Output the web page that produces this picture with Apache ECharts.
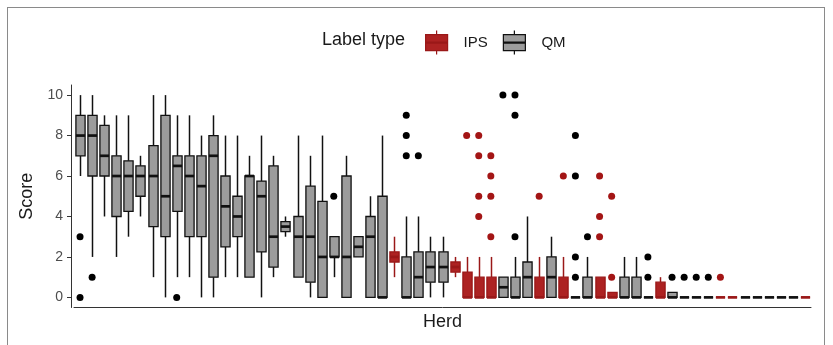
<!DOCTYPE html>
<html>
<head>
<meta charset="utf-8">
<title>Score by herd</title>
<script src="https://cdn.jsdelivr.net/npm/echarts@6/dist/echarts.min.js"></script>
<style>
  html, body { margin: 0; padding: 0; background: #fff; }
  #frame {
    position: absolute; left: 7px; top: 7px;
    width: 818px; height: 380px;
    border: 1px solid #8a8a8a; box-sizing: border-box;
  }
  #chart { position: absolute; left: 0; top: 0; width: 833px; height: 345px; }
</style>
</head>
<body>
<div id="frame"></div>
<div id="chart"></div>
<script>
// one entry per herd, ordered as on the x axis
var labelType = [
  'QM','QM','QM','QM','QM','QM','QM','QM','QM','QM',
  'QM','QM','QM','QM','QM','QM','QM','QM','QM','QM',
  'QM','QM','QM','QM','QM','QM','IPS','QM','QM','QM',
  'QM','IPS','IPS','IPS','IPS','QM','QM','QM','IPS','QM',
  'IPS','QM','QM','IPS','IPS','QM','QM','QM','IPS','QM',
  'QM','QM','QM','IPS','IPS','QM','QM','QM','QM','QM',
  'IPS'
];
var whiskerLow = [
  6, 2, 4, 2, 3, 4, 1, 0, 1, 1,
  0, 0, 1, 1, 1, 0, 1, 3, 1, 0,
  0, 1, 0, 2, 0, 0, 1, 0, 0, 0,
  0, 1, 0, 0, 0, 0, 0, 0, 0, 0,
  0, 0, 0, 0, 0, 0, 0, 0, 0, 0,
  0, 0, 0, 0, 0, 0, 0, 0, 0, 0,
  0
];
var lowerQuartile = [
  7, 6, 6, 4, 4.25, 5, 3.5, 3, 4.25, 3,
  3, 1, 2.5, 3, 1, 2.25, 1.5, 3.25, 1, 0.75,
  0, 2, 0, 2, 0, 0, 1.75, 0, 0, 0.75,
  0.75, 1.25, 0, 0, 0, 0, 0, 0, 0, 0,
  0, 0, 0, 0, 0, 0, 0, 0, 0, 0,
  0, 0, 0, 0, 0, 0, 0, 0, 0, 0,
  0
];
var medians = [
  8, 8, 7, 6, 6, 6, 6, 5, 6.5, 6,
  5.5, 7, 4.5, 4, 6, 5, 3, 3.5, 3, 3,
  2, 2, 2, 2.5, 3, 0, 2, 0, 1, 1.5,
  1.5, 1.5, 0, 0, 0, 0.5, 0, 1, 0, 1,
  0, 0, 0, 0, 0, 0, 0, 0, 0, 0,
  0, 0, 0, 0, 0, 0, 0, 0, 0, 0,
  0
];
var upperQuartile = [
  9, 9, 8.5, 7, 6.75, 6.5, 7.5, 9, 7, 7,
  7, 8, 6, 5, 6, 5.75, 6.5, 3.75, 4, 5.5,
  4.75, 3, 6, 3, 4, 5, 2.25, 2, 2.25, 2.25,
  2.25, 1.75, 1.25, 1, 1, 1, 1, 1.75, 1, 2,
  1, 0, 1, 1, 0.25, 1, 1, 0, 0.75, 0.25,
  0, 0, 0, 0, 0, 0, 0, 0, 0, 0,
  0
];
var whiskerHigh = [
  10, 10, 9, 9, 9, 7, 10, 10, 9, 9,
  8, 9, 8, 8, 7, 8, 7, 4, 8, 7,
  8, 3, 7, 3, 5, 8, 3, 4, 4, 3,
  3, 2, 2, 2, 2, 1, 2, 4, 2, 3,
  2, 0, 2, 1, 0.25, 2, 2, 0, 1, 0.25,
  0, 0, 0, 0, 0, 0, 0, 0, 0, 0,
  0
];
// outliers: herd index and score
var outlierHerd  = [0, 0, 1, 8, 21, 27, 27, 27, 28, 32, 33, 33, 33, 33, 34, 34, 34, 34, 35, 36, 36, 36,
                    38, 40, 41, 41, 41, 41, 42, 43, 43, 43, 44, 44, 47, 47, 49, 50, 51, 52, 53];
var outlierScore = [3, 0, 1, 0, 5, 9, 8, 7, 7, 8, 8, 7, 5, 4, 7, 6, 5, 3, 10, 10, 9, 3,
                    5, 6, 8, 6, 2, 1, 3, 6, 4, 3, 5, 1, 2, 1, 1, 1, 1, 1, 1];
var scoreTicks = [0, 2, 4, 6, 8, 10];

var herds = labelType.map(function (t, i) { return 'Herd ' + (i + 1); });

var palette = {
  IPS: { fill: '#ad2222', line: '#9a1818', point: '#a31515' },
  QM:  { fill: '#9c9c9c', line: '#111111', point: '#000000' }
};
var font = 'Liberation Sans, Arial, Helvetica, sans-serif';
// legend key: whiskers, box and a thin median bar
var keyIcon = 'path://M11,0 L11,4 M0,4 L22,4 L22,20 L0,20 Z M11,20 L11,24 M0,11.4 L22,11.4 L22,12.6 L0,12.6 Z';

function boxData(type) {
  var out = [];
  for (var i = 0; i < labelType.length; i++) {
    if (labelType[i] !== type) continue;
    out.push([i, whiskerLow[i], lowerQuartile[i], medians[i], upperQuartile[i], whiskerHigh[i]]);
  }
  return out;
}

function outlierData(type) {
  var out = [];
  for (var i = 0; i < outlierHerd.length; i++) {
    if (labelType[outlierHerd[i]] === type) out.push([outlierHerd[i], outlierScore[i]]);
  }
  return out;
}

function renderBox(params, api) {
  var c = palette[params.seriesName];
  var x = api.value(0);
  var lo = api.coord([x, api.value(1)]);
  var q1 = api.coord([x, api.value(2)]);
  var md = api.coord([x, api.value(3)]);
  var q3 = api.coord([x, api.value(4)]);
  var hi = api.coord([x, api.value(5)]);
  var bw = api.size([1, 0])[0] * 0.76;
  var cx = Math.round(lo[0]) + 0.5;
  return {
    type: 'group',
    children: [
      { type: 'line', shape: { x1: cx, y1: hi[1], x2: cx, y2: q3[1] }, style: { stroke: c.line, lineWidth: 1.5 } },
      { type: 'line', shape: { x1: cx, y1: q1[1], x2: cx, y2: lo[1] }, style: { stroke: c.line, lineWidth: 1.5 } },
      { type: 'rect', shape: { x: cx - bw / 2, y: q3[1], width: bw, height: q1[1] - q3[1] },
        style: { fill: c.fill, stroke: c.line, lineWidth: 1.3 } },
      { type: 'line', shape: { x1: cx - bw / 2, y1: md[1], x2: cx + bw / 2, y2: md[1] },
        style: { stroke: c.line, lineWidth: 2.7 } }
    ]
  };
}

var chart = echarts.init(document.getElementById('chart'));
chart.setOption({
  animation: false,
  textStyle: { fontFamily: font },
  title: {
    text: 'Label type', left: 322, top: 31, padding: 0,
    textStyle: { fontSize: 18, fontWeight: 'normal', color: '#1a1a1a', fontFamily: font }
  },
  legend: {
    data: [{ name: 'IPS', icon: keyIcon }, { name: 'QM', icon: keyIcon }],
    left: 425, top: 30, padding: 0,
    itemWidth: 22, itemHeight: 24, itemGap: 15,
    selectedMode: false,
    itemStyle: { borderWidth: 1.2 },
    textStyle: { fontSize: 15, color: '#1a1a1a', padding: [0, 0, 0, 11], fontFamily: font }
  },
  grid: { left: 74, right: 22, top: 85, bottom: 37.5 },
  xAxis: {
    type: 'category', data: herds, boundaryGap: true,
    name: 'Herd', nameLocation: 'middle', nameGap: 6,
    nameTextStyle: { fontSize: 18, color: '#1a1a1a', verticalAlign: 'top' },
    axisLine: { onZero: false, lineStyle: { color: '#333', width: 1 } },
    axisTick: { show: false },
    axisLabel: { show: false },
    splitLine: { show: false }
  },
  yAxis: {
    type: 'value', min: -0.5, max: 10.5, offset: 3,
    name: 'Score', nameLocation: 'middle', nameGap: 27, nameRotate: 90,
    nameTextStyle: { fontSize: 18, color: '#1a1a1a' },
    axisLine: { show: true, lineStyle: { color: '#333', width: 1 } },
    axisTick: { show: true, length: 4, customValues: scoreTicks, lineStyle: { color: '#333' } },
    axisLabel: { customValues: scoreTicks, fontSize: 14, color: '#4d4d4d', margin: 8 },
    splitLine: { show: false }
  },
  series: [
    {
      name: 'IPS', type: 'custom', renderItem: renderBox,
      itemStyle: { color: palette.IPS.fill, borderColor: palette.IPS.line, borderWidth: 1 },
      encode: { x: 0, y: [1, 2, 3, 4, 5] },
      data: boxData('IPS')
    },
    {
      name: 'QM', type: 'custom', renderItem: renderBox,
      itemStyle: { color: palette.QM.fill, borderColor: palette.QM.line, borderWidth: 1 },
      encode: { x: 0, y: [1, 2, 3, 4, 5] },
      data: boxData('QM')
    },
    {
      name: 'IPS outliers', type: 'scatter', symbolSize: 7, z: 5,
      itemStyle: { color: palette.IPS.point, opacity: 1 },
      data: outlierData('IPS')
    },
    {
      name: 'QM outliers', type: 'scatter', symbolSize: 7, z: 5,
      itemStyle: { color: palette.QM.point, opacity: 1 },
      data: outlierData('QM')
    }
  ]
});
</script>
</body>
</html>
